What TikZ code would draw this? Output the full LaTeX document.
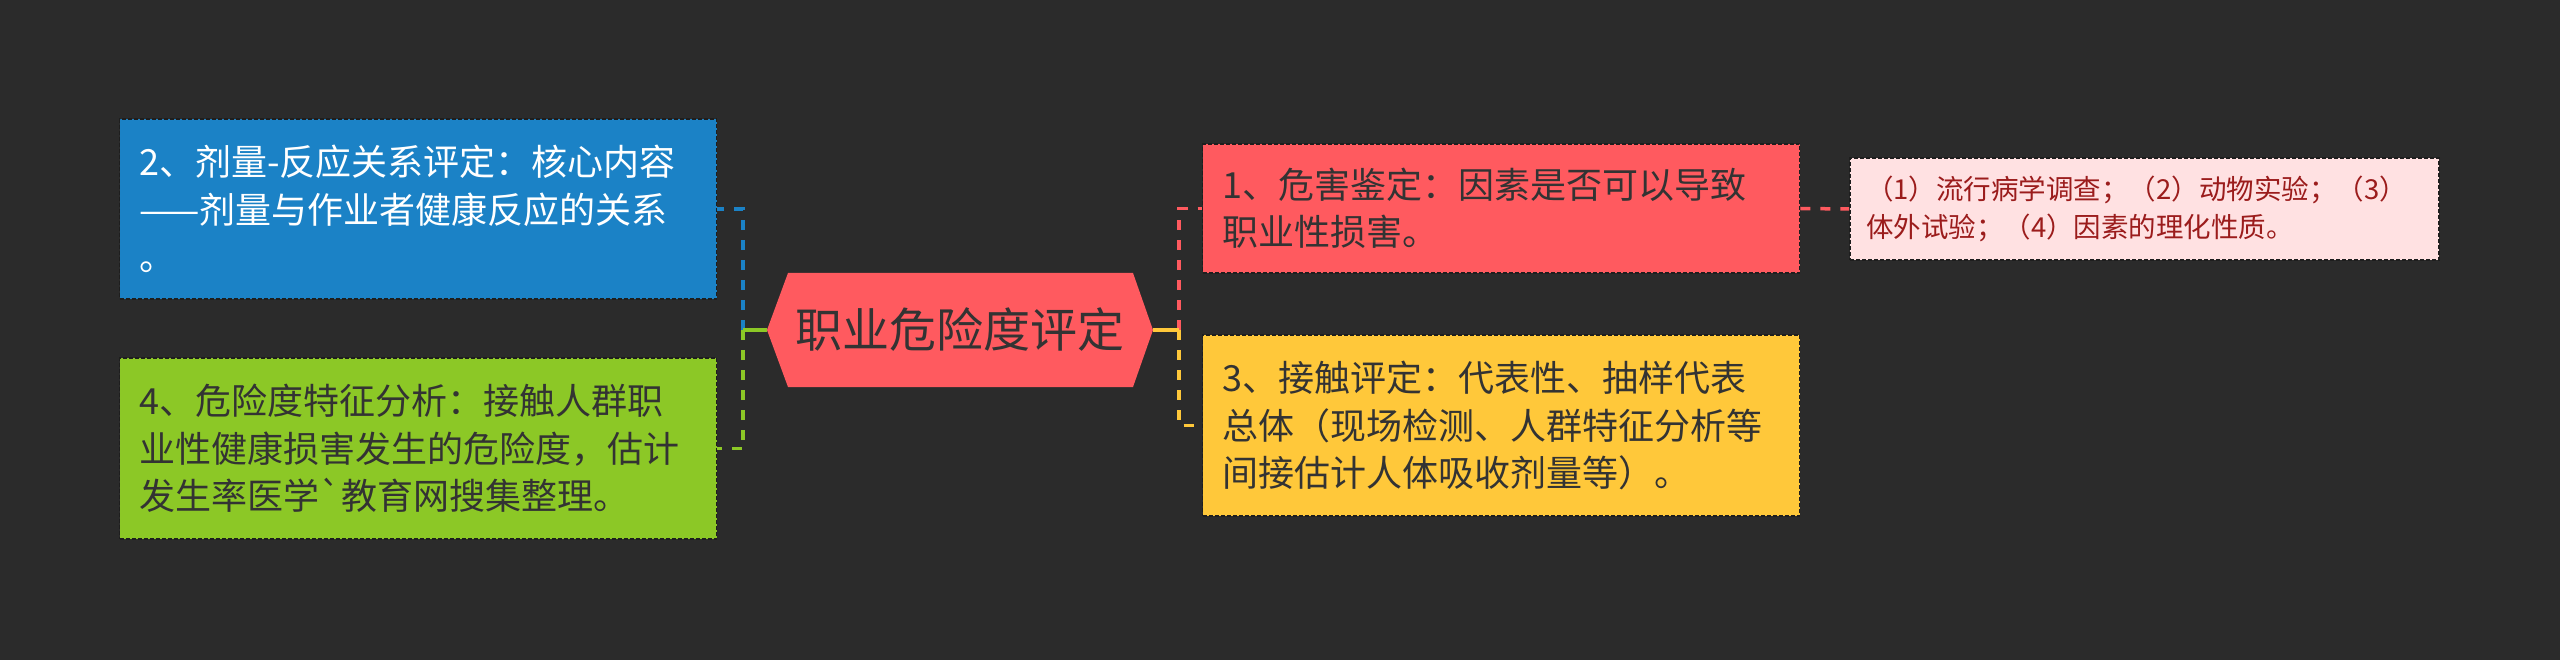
\documentclass[tikz,border=0pt]{standalone}
\usepackage{fontspec}
\newfontfamily\cjk{Noto Sans CJK SC}

\definecolor{bgdark}{HTML}{2B2B2B}
\definecolor{rootred}{HTML}{FF5A5F}
\definecolor{doseblue}{HTML}{1B82C6}
\definecolor{riskgreen}{HTML}{8CC826}
\definecolor{expyellow}{HTML}{FFC83A}
\definecolor{notepink}{HTML}{FFE1E2}
\definecolor{notetext}{HTML}{9B1C1C}
\definecolor{darktext}{HTML}{333333}
\definecolor{edgedark}{HTML}{1E1E1E}

\tikzset{
  topicbox/.style={draw=edgedark, fill=#1, line width=1.8pt, dash pattern=on 4pt off 2pt,
    inner xsep=20pt, inner ysep=0pt, text width=557pt, align=left,
    font=\cjk\fontsize{36}{47.5}\selectfont, text=darktext},
  notebox/.style={draw=edgedark, fill=notepink, line width=1.8pt, dash pattern=on 4pt off 2pt,
    inner xsep=16pt, inner ysep=0pt, text width=557pt, align=left,
    font=\cjk\fontsize{27.5}{38}\selectfont, text=notetext},
  rootnode/.style={fill=bgdark, minimum width=386pt, minimum height=114pt, inner sep=0pt,
    font=\cjk\fontsize{47}{56}\selectfont, text=darktext,
    path picture={\fill[rootred] (path picture bounding box.west)
      -- ([xshift=21pt]path picture bounding box.north west)
      -- ([xshift=-20pt]path picture bounding box.north east)
      -- (path picture bounding box.east)
      -- ([xshift=-20pt]path picture bounding box.south east)
      -- ([xshift=21pt]path picture bounding box.south west) -- cycle;}},
  branch/.style={draw=#1, line width=3.5pt, dash pattern=on 10pt off 10pt},
  stub/.style={draw=#1, line width=3.5pt},
}

\begin{document}
\begin{tikzpicture}[x=1pt,y=-1pt]
	\useasboundingbox (0,0) rectangle (2560,660);
	\fill[bgdark] (0,0) rectangle (2560,660);

	\node[rootnode] (root) at (960,330) {职业危险度评定};
	\coordinate (lj) at (743,330);
	\coordinate (rj) at (1179,330);

	% left side
	\node[topicbox=doseblue, text=white, minimum height=180pt] (dose) at (418,209)
		{2、剂量-反应关系评定：核心内容\\——剂量与作业者健康反应的关系\\。};
	\node[topicbox=riskgreen, minimum height=181pt] (risk) at (418,448.5)
		{4、危险度特征分析：接触人群职\\业性健康损害发生的危险度，估计\\发生率医学`教育网搜集整理。};

	% right side
	\node[topicbox=rootred, minimum height=129pt] (hazard) at (1501,208.5)
		{1、危害鉴定：因素是否可以导致\\职业性损害。};
	\node[topicbox=expyellow, minimum height=181pt] (exposure) at (1501,425.5)
		{3、接触评定：代表性、抽样代表\\总体（现场检测、人群特征分析等\\间接估计人体吸收剂量等）。};
	\node[notebox, minimum height=102pt] (methods) at (2144.5,209)
		{（1）流行病学调查；（2）动物实验；（3）\\体外试验；（4）因素的理化性质。};

	\draw[branch=doseblue] (lj) |- (dose.east);
	\draw[branch=riskgreen] (lj) |- (risk.east);
	\draw[stub=doseblue] (root.west) -- (lj);
	\draw[stub=riskgreen] (root.west) -- (lj);

	\draw[branch=rootred] (rj) |- (hazard.west);
	\draw[branch=expyellow] (rj) |- (exposure.west);
	\draw[stub=rootred] (root.east) -- (rj);
	\draw[stub=expyellow] (root.east) -- (rj);

	\draw[branch=rootred] (hazard.east) -- (methods.west);
\end{tikzpicture}
\end{document}
